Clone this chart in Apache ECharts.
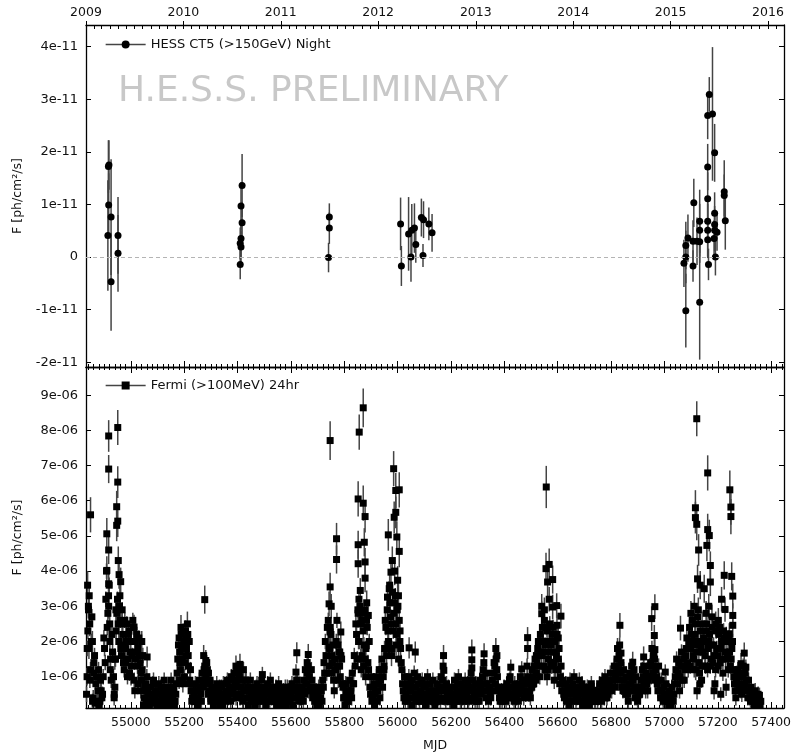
<!DOCTYPE html>
<html>
<head>
<meta charset="utf-8">
<script src="https://cdn.jsdelivr.net/npm/echarts@6/dist/echarts.min.js"></script>
</head>
<body style="margin:0; background:#fff">
<div id="chart" style="width:802px; height:754px"></div>
<script>
// ---- HESS CT5 nightly fluxes (units of 1e-11 ph/cm2/s) ----
var hessMjd = [54918, 54916, 54917, 54926, 54914, 54926, 54952, 54952,
  55417, 55413, 55417, 55413, 55410, 55413, 55410,
  55744, 55744, 55741,
  56011, 56014, 56041, 56050, 56053, 56063, 56068, 56089, 56097, 56095, 56117, 56129,
  57073, 57080, 57080, 57080, 57088, 57107, 57107, 57110, 57122, 57132, 57132, 57132, 57132,
  57162, 57162, 57162, 57162, 57162, 57165, 57188, 57188, 57188, 57188, 57186, 57191, 57197,
  57224, 57224, 57228, 57168, 57162, 57180];
var hessFlux = [1.75, 1.72, 0.99, 0.76, 0.41, -0.47, 0.41, 0.07,
  1.36, 0.97, 0.65, 0.35, 0.26, 0.19, -0.14,
  0.76, 0.55, -0.01,
  0.63, -0.17, 0.44, 0.00, 0.51, 0.55, 0.24, 0.75, 0.71, 0.03, 0.63, 0.46,
  -0.12, 0.00, 0.22, -1.02, 0.36, -0.17, 0.30, 1.03, 0.30, -0.86, 0.68, 0.51, 0.29,
  1.71, 1.11, 0.68, 0.51, 0.33, -0.14, 1.98, 0.83, 0.62, 0.51, 0.35, 0.00, 0.47,
  1.24, 1.17, 0.69, 3.09, 2.69, 2.72];
var hessErr = [0.47, 0.5, 0.6, 1.1, 1.05, 0.93, 0.73, 0.73,
  0.6, 0.45, 0.4, 0.35, 0.3, 0.3, 0.28,
  0.26, 0.3, 0.28,
  0.5, 0.38, 0.7, 0.47, 0.5, 0.47, 0.35, 0.36, 0.35, 0.22, 0.31, 0.36,
  0.45, 0.5, 0.45, 0.7, 0.45, 0.3, 0.4, 0.46, 0.45, 1.09, 0.6, 0.5, 0.4,
  0.44, 0.5, 0.4, 0.5, 0.35, 0.3, 0.55, 0.4, 0.35, 0.4, 0.35, 0.35, 0.35,
  0.6, 0.4, 0.55, 0.33, 0.45, 1.27];

// ---- Fermi-LAT daily fluxes (units of 1e-6 ph/cm2/s) ----
// bright / isolated days: [mjd, flux, error]
var fermiFlares = [
  [54849,5.6,0.5],[54838,3.6,0.4],[54841,3.0,0.35],[54846,2.5,0.35],[54843,1.8,0.3],[54856,2.0,0.3],[54836,1.0,0.25],[54861,1.1,0.3],
  [54917,7.84,0.45],[54917,6.9,0.4],[54951,8.08,0.5],[54951,6.53,0.45],[54947,5.83,0.45],[54951,5.42,0.45],[54947,5.3,0.45],
  [54910,5.06,0.45],[54917,4.6,0.4],[54910,4.02,0.4],[54917,3.64,0.35],[54956,3.9,0.4],[54962,3.7,0.4],[54917,3.0,0.35],
  [54956,3.0,0.35],[54921,2.5,0.35],[54923,1.2,0.3],[54940,1.5,0.3],[54938,0.5,0.2],[54953,4.3,0.4],[54959,3.3,0.35],
  [54944,2.9,0.35],[54967,2.5,0.35],[54972,1.9,0.3],[54981,1.4,0.3],[54991,2.2,0.3],[55012,2.41,0.35],[55001,1.0,0.25],
  [55017,2.0,0.3],[55026,1.8,0.3],
  [55061,1.56,0.3],[55041,2.0,0.3],[55038,1.1,0.25],
  [55188,2.4,0.35],[55191,1.5,0.3],[55199,1.9,0.3],[55212,2.5,0.35],[55209,2.1,0.3],[55205,2.3,0.3],[55183,1.7,0.3],
  [55195,0.8,0.25],[55215,1.6,0.3],[55181,0.9,0.25],[55219,2.0,0.3],
  [55277,3.19,0.4],[55281,1.46,0.3],[55273,1.6,0.3],[55291,1.1,0.25],
  [55394,1.3,0.3],[55409,1.35,0.3],
  [55622,1.68,0.3],[55665,1.63,0.3],[55661,1.4,0.3],
  [55747,7.71,0.55],[55771,4.92,0.45],[55771,4.33,0.4],[55747,3.55,0.4],[55743,3.07,0.35],[55751,3.0,0.35],[55747,2.27,0.3],
  [55787,2.27,0.3],[55744,1.84,0.3],[55753,1.6,0.3],[55777,1.9,0.3],[55767,1.2,0.25],[55783,1.7,0.3],
  [55856,7.95,0.5],[55871,8.64,0.55],[55852,6.05,0.5],[55871,5.93,0.5],[55878,5.55,0.45],[55852,4.75,0.4],[55875,4.82,0.4],
  [55852,4.21,0.4],[55878,4.26,0.4],[55878,3.8,0.4],[55860,3.45,0.35],[55852,2.8,0.35],[55890,2.74,0.35],[55855,3.2,0.35],
  [55866,2.6,0.3],[55884,3.1,0.35],[55862,1.5,0.3],[55873,1.3,0.25],[55880,1.0,0.25],
  [55985,6.91,0.5],[55993,6.29,0.5],[56006,6.31,0.5],[55993,5.67,0.45],[55987,5.53,0.45],[55965,5.03,0.45],[55997,4.97,0.45],
  [56006,4.56,0.45],[55975,3.97,0.4],[56000,3.74,0.4],[55962,3.26,0.35],[55980,4.3,0.4],[55989,4.0,0.4],[55970,3.6,0.35],
  [56003,3.3,0.35],[55955,1.8,0.3],[55977,1.6,0.3],[55994,1.9,0.3],[56009,2.3,0.3],[55949,1.3,0.3],
  [56043,1.82,0.3],[56066,1.7,0.3],[56172,1.6,0.3],
  [56278,1.76,0.3],[56278,1.48,0.3],[56324,1.65,0.3],[56368,1.8,0.3],[56372,1.6,0.3],
  [56487,2.11,0.3],[56487,1.8,0.3],[56540,3.0,0.35],[56540,2.79,0.35],[56530,2.0,0.3],[56520,1.6,0.3],
  [56557,6.39,0.6],[56556,4.07,0.45],[56568,4.19,0.45],[56562,3.69,0.4],[56581,3.76,0.4],[56568,3.2,0.35],[56581,2.98,0.35],
  [56596,3.02,0.35],[56612,2.72,0.35],[56597,2.46,0.3],[56552,1.2,0.3],[56560,1.0,0.25],[56574,1.4,0.3],[56587,0.9,0.25],
  [56602,2.1,0.3],[56550,2.9,0.35],
  [56833,2.46,0.35],[56824,1.8,0.3],[56837,1.67,0.3],[56829,1.1,0.25],
  [56881,1.41,0.3],[56922,1.56,0.3],[56886,1.2,0.25],
  [56952,2.65,0.35],[56964,2.99,0.35],[56962,2.17,0.3],[56964,1.77,0.3],[56958,1.6,0.3],
  [57060,2.38,0.35],[57099,2.8,0.35],[57121,8.33,0.5],[57116,5.8,0.5],[57116,5.52,0.45],[57121,5.33,0.45],[57128,4.6,0.45],
  [57124,3.78,0.4],[57134,3.6,0.4],[57105,2.0,0.3],[57112,3.0,0.35],[57117,1.2,0.3],[57127,2.9,0.35],[57141,2.5,0.35],
  [57122,0.6,0.25],[57133,0.8,0.25],
  [57149,3.5,0.4],[57162,6.79,0.5],[57162,5.18,0.45],[57168,5.01,0.45],[57159,4.73,0.45],[57172,4.16,0.4],[57172,3.69,0.4],
  [57166,3.0,0.35],[57156,2.8,0.35],[57178,2.7,0.35],
  [57245,6.31,0.55],[57249,5.82,0.5],[57249,5.55,0.5],[57224,3.88,0.4],[57252,3.85,0.4],[57256,3.29,0.35],[57214,3.2,0.35],
  [57227,2.91,0.35],[57256,2.74,0.35],[57256,2.46,0.35],[57243,2.22,0.3],[57192,2.5,0.35],[57202,2.6,0.35],[57211,0.5,0.2],
  [57186,0.6,0.25],[57231,0.7,0.25],
  [57299,1.67,0.3],[57287,1.37,0.3]
];

// the rest of the light curve: one row per ~100 days, 5-day spacing inside a row
var fermiRowStart = [54834, 54935, 55035, 55136, 55237, 55337, 55438, 55539, 55639, 55740,
  55841, 55941, 56042, 56143, 56243, 56344, 56445, 56545, 56646, 56747,
  56847, 56948, 57049, 57149, 57250, 57351];
var fermiRows = [
  [0.5,2.3,3.3,1.2,2.7,0.4,1.6,0.8,0.3,1.2,0.3,0.6,0.5,2.1,1.4,4.0,2.8,3.6,1.5,2.2],
  [1.0,0.7,2.3,3.2,2.0,2.6,1.6,2.2,1.2,1.8,2.5,1.5,1.1,2.0,1.6,2.4,0.6,1.7,1.3,2.1],
  [1.4,0.9,1.6,0.4,0.8,1.0,0.5,0.3,0.7,0.5,0.9,0.4,0.6,0.3,0.8,0.5,0.7,0.4,0.9,0.5],
  [0.3,0.7,0.5,0.9,0.4,0.6,0.3,0.8,1.5,2.1,1.2,1.8,2.3,1.0,1.6,2.0,1.3,0.9,0.6,0.4],
  [0.5,0.8,0.3,0.6,0.9,0.5,1.1,0.7,1.3,1.0,1.2,0.6,0.9,0.4,0.7,0.3,0.6,0.8,0.4,0.7],
  [0.5,0.3,0.8,0.4,0.6,0.9,0.5,0.7,1.0,0.6,1.1,0.8,1.2,0.7,1.0,0.5,0.9,1.2,0.6,0.9],
  [0.7,0.4,0.9,0.5,0.3,0.6,0.4,0.8,0.3,0.5,0.7,1.06,0.4,0.6,0.3,0.8,0.5,0.9,0.4,0.6],
  [0.3,0.7,0.5,0.8,0.4,0.6,0.3,0.5,0.7,0.4,0.6,0.3,0.5,0.8,0.4,0.7,1.13,0.9,0.5,0.7],
  [0.4,0.6,0.9,1.2,0.8,1.3,1.0,0.6,0.9,0.5,0.3,0.6,0.4,0.7,0.3,0.6,0.9,1.4,2.0,1.1],
  [2.6,1.8,2.2,1.4,0.9,1.5,2.0,1.3,1.7,1.0,1.5,0.7,0.4,0.8,0.5,0.3,0.9,0.6,1.1,0.8],
  [1.3,2.2,2.9,2.0,2.5,1.6,2.3,2.9,1.8,2.4,1.2,0.7,1.0,0.4,0.8,0.5,1.0,0.6,1.2,0.9],
  [1.5,1.0,1.8,2.4,2.9,2.0,3.1,2.5,3.4,2.8,3.3,2.2,3.0,2.6,1.8,1.2,0.6,1.0,0.5,0.8],
  [1.0,0.6,0.9,0.4,1.1,0.7,0.5,0.8,0.3,0.6,0.9,0.5,0.7,0.4,1.0,0.6,0.8,0.4,0.9,0.6],
  [0.5,0.8,0.4,0.7,1.0,0.9,1.18,0.6,0.8,0.4,0.6,0.3,0.7,0.5,0.9,0.4,0.6,1.0,0.5,0.8],
  [0.4,0.7,0.9,0.5,0.8,0.4,0.9,1.25,0.7,0.5,0.8,0.3,0.6,0.9,0.5,1.0,1.4,0.8,1.1,0.6],
  [0.7,0.4,0.9,1.1,1.3,1.5,1.0,0.6,0.3,0.6,0.4,0.7,0.5,0.8,0.4,0.9,1.27,0.7,0.5,0.8],
  [0.4,0.7,0.5,1.0,1.22,0.6,0.9,0.5,1.3,0.8,0.6,0.9,1.2,0.8,1.5,1.1,1.8,1.3,2.2,1.6],
  [2.0,2.6,1.7,2.3,1.5,2.5,1.9,2.2,1.4,2.0,1.6,1.2,1.8,1.0,0.6,0.9,0.4,0.8,0.5,0.7],
  [0.9,0.5,0.8,1.0,0.6,0.4,0.7,0.9,0.5,0.8,0.3,0.6,0.4,0.7,0.3,0.5,0.8,0.4,0.6,0.3],
  [0.6,0.4,0.8,0.5,0.9,0.6,1.0,0.7,0.5,0.9,1.1,0.6,0.9,1.3,1.0,1.5,1.2,1.9,1.4,0.9],
  [1.2,0.7,1.0,0.5,0.8,1.1,1.3,0.9,0.6,1.0,0.4,0.7,0.5,0.9,1.2,1.3,0.8,1.1,0.6,1.0],
  [1.4,1.8,1.1,1.5,1.2,0.8,1.3,0.6,0.9,0.4,0.7,1.13,0.5,0.3,0.6,0.4,0.7,0.3,0.8,1.2],
  [0.8,1.4,1.0,1.7,1.3,0.9,1.6,2.1,1.2,2.4,1.8,2.6,1.5,2.2,1.9,2.7,1.4,2.3,0.9,1.7],
  [2.0,1.3,2.5,1.8,2.2,1.5,2.4,1.9,0.8,2.3,1.6,2.2,1.4,2.0,1.1,2.1,1.5,2.0,1.2,1.7],
  [1.5,2.0,1.0,0.6,0.9,1.2,0.7,1.1,0.5,1.3,0.8,1.27,0.6,0.9,0.4,0.7,0.5,0.3,0.6,0.4],
  [0.5,0.47,0.3]
];
// same rows, days in between (2.5 days later)
var fermiRowsMid = [
  [1.8,2.9,0.9,2.0,0.3,1.4,0.25,1.0,0.6,0.2,0.9,0.4,1.0,1.8,3.2,2.4,3.3,2.0,0.9,1.7],
  [0.4,1.5,2.8,2.5,3.0,1.8,2.9,1.4,2.6,2.0,1.0,2.3,1.7,1.3,2.6,0.9,1.5,2.2,0.8,1.6],
  [0.6,1.2,0.2,0.7,0.3,0.6,0.2,0.5,0.25,0.8,0.3,0.6,0.2,0.5,0.3,0.7,0.2,0.6,0.3,0.2],
  [0.5,0.2,0.6,0.3,0.7,0.2,0.5,1.1,1.9,1.4,2.2,0.9,2.0,1.4,1.8,2.2,0.8,1.2,0.3,0.6],
  [0.3,0.6,0.2,0.4,0.7,0.3,0.8,1.2,0.9,1.4,0.5,0.8,0.3,0.6,0.2,0.5,0.4,0.3,0.6,0.2],
  [0.7,0.2,0.5,0.3,0.8,0.4,0.6,0.3,0.7,0.9,0.5,0.4,0.9,1.1,0.4,0.7,0.3,0.6,0.9,0.4],
  [0.2,0.6,0.3,0.7,0.5,0.2,0.7,0.5,0.6,0.3,0.9,0.5,0.7,0.2,0.5,0.6,0.3,0.6,0.7,0.3],
  [0.5,0.2,0.3,0.6,0.2,0.4,0.6,0.3,0.2,0.7,0.3,0.5,0.7,0.2,0.6,0.4,0.9,0.6,0.3,0.4],
  [0.7,0.3,0.5,0.8,1.1,0.6,0.7,1.2,0.4,0.7,0.5,0.2,0.5,0.2,0.4,0.3,0.7,1.1,1.6,2.4],
  [1.3,2.4,1.1,1.9,0.6,1.2,2.6,0.9,1.3,1.6,0.8,0.4,0.2,0.6,0.3,0.6,0.5,0.4,0.8,1.6],
  [2.5,1.5,2.0,3.0,1.2,2.8,1.9,1.5,2.6,1.4,2.0,0.5,0.3,0.7,0.2,0.6,0.3,0.8,0.4,1.2],
  [0.7,1.2,2.6,1.6,2.3,3.5,2.7,1.8,2.3,3.1,2.5,2.9,1.5,2.0,1.4,0.8,0.4,0.3,0.7,0.3],
  [0.4,0.8,0.2,0.7,0.5,0.3,1.0,0.4,0.6,0.8,0.3,0.4,0.2,0.8,0.5,0.3,0.6,0.5,0.3,0.2],
  [0.3,0.6,0.6,0.3,0.7,1.3,0.4,0.3,0.5,0.7,0.3,0.5,0.4,0.2,0.7,0.3,0.8,0.5,0.3,0.6],
  [0.6,0.3,0.5,0.7,0.3,0.6,1.1,0.9,0.4,0.3,0.6,0.5,0.3,0.7,0.8,1.2,0.6,0.4,0.8,0.3],
  [0.5,0.6,0.6,1.4,0.8,1.2,0.7,0.4,0.5,0.3,0.6,0.4,0.3,0.6,0.7,1.0,0.5,0.4,0.3,0.6],
  [0.6,0.3,0.8,0.7,0.9,0.4,0.6,0.8,1.0,0.5,0.4,0.7,1.0,1.3,0.9,1.4,2.0,1.0,1.7,2.4],
  [1.3,1.9,2.4,1.2,2.0,1.7,1.3,2.4,1.7,1.2,2.2,1.5,0.8,1.3,0.8,0.5,0.6,0.3,0.6,0.2],
  [0.6,0.3,0.5,0.7,0.3,0.6,0.5,0.3,0.7,0.2,0.5,0.3,0.6,0.5,0.2,0.6,0.3,0.6,0.3,0.5],
  [0.3,0.6,0.5,0.3,0.7,0.4,0.8,0.4,0.8,0.6,0.7,0.9,1.1,0.7,1.3,0.9,1.6,1.1,0.7,0.6],
  [0.9,0.5,0.7,0.3,0.6,0.8,1.0,0.6,0.4,0.7,0.3,0.5,0.7,0.6,1.0,0.8,0.6,0.8,0.9,1.3],
  [1.0,1.3,1.6,0.9,1.0,0.6,0.9,0.4,0.6,0.3,0.5,0.8,0.3,0.2,0.4,0.2,0.5,0.5,1.0,1.5],
  [1.1,0.6,1.3,0.9,1.5,1.2,1.8,1.4,2.0,1.3,2.2,1.6,1.2,2.5,1.7,2.0,1.1,1.8,1.3,2.1],
  [1.6,2.3,1.2,2.0,1.3,1.9,1.4,1.6,1.2,1.8,1.3,2.4,1.8,1.5,2.3,1.7,2.2,1.6,2.1,1.3],
  [1.8,1.2,0.8,0.4,1.1,0.8,1.0,0.6,1.0,0.7,1.1,0.9,0.4,0.6,0.3,0.5,0.3,0.2,0.4,0.2],
  [0.3,0.2]
];
var fermiRowStep = 5;
var fermiMidOffset = 2.5;
var fermiRowErr = 0.22;

// ---- axes ----
var mjdMin = 54832, mjdMax = 57448;
var mjdTicks = [55000, 55200, 55400, 55600, 55800, 56000, 56200, 56400, 56600, 56800, 57000, 57200, 57400];
var yearStarts = [54832, 55197, 55562, 55927, 56293, 56658, 57023, 57388];
var yearLabels = ['2009', '2010', '2011', '2012', '2013', '2014', '2015', '2016'];
var hessTicks = [-2, -1, 0, 1, 2, 3, 4];
var fermiTicks = [1, 2, 3, 4, 5, 6, 7, 8, 9];

var minorMjd = [];
for (var t = 54840; t <= mjdMax; t += 20) minorMjd.push(t);
var monthMjd = [];
for (var yr = 2009; yr <= 2016; yr++) {
  for (var mo = 0; mo < 12; mo++) {
    var d = Date.UTC(yr, mo, 1) / 864e5 + 40587;
    if (d >= mjdMin && d <= mjdMax) monthMjd.push(d);
  }
}

var hessData = hessMjd.map(function (m, i) { return [m, hessFlux[i], hessErr[i]]; });
var fermiData = [];
function addRows(rows, offset) {
  rows.forEach(function (row, r) {
    row.forEach(function (v, i) {
      fermiData.push([fermiRowStart[r] + offset + i * fermiRowStep, v, fermiRowErr]);
    });
  });
}
addRows(fermiRows, 0);
addRows(fermiRowsMid, fermiMidOffset);
fermiData = fermiData.concat(fermiFlares);

var font = 'DejaVu Sans';
var ink = '#111';

function errBar(params, api) {
  var cs = params.coordSys;
  var x = api.value(0), y = api.value(1), e = api.value(2);
  var a = api.coord([x, y + e]), b = api.coord([x, y - e]);
  var top = Math.max(a[1], cs.y), bot = Math.min(b[1], cs.y + cs.height);
  if (bot <= top) return null;
  return {
    type: 'line',
    shape: { x1: a[0], y1: top, x2: a[0], y2: bot },
    style: { stroke: '#444', lineWidth: 1.5 }
  };
}

function xAx(grid, pos, ticks, len, opts) {
  var ax = {
    gridIndex: grid, type: 'value', position: pos, min: mjdMin, max: mjdMax,
    axisLine: { show: true, onZero: false, lineStyle: { color: '#000', width: 1.3 } },
    axisTick: { show: true, inside: true, length: len, customValues: ticks, lineStyle: { color: '#000', width: 1 } },
    axisLabel: { show: false },
    splitLine: { show: false }
  };
  return Object.assign(ax, opts || {});
}
var noLine = { axisLine: { show: false, onZero: false } };

function yAx(grid, pos, min, max, ticks, suffix, showLabel) {
  return {
    gridIndex: grid, type: 'value', position: pos, min: min, max: max,
    axisLine: { show: true, onZero: false, lineStyle: { color: '#000', width: 1.3 } },
    axisTick: { show: true, inside: true, length: 5, customValues: ticks, lineStyle: { color: '#000' } },
    axisLabel: {
      show: showLabel, customValues: ticks, margin: 8,
      fontFamily: font, fontSize: 13, color: ink,
      formatter: function (v) { return v === 0 ? '0' : v + suffix; }
    },
    splitLine: { show: false },
    name: showLabel ? 'F [ph/cm\u00b2/s]' : '',
    nameLocation: 'middle', nameGap: 62, nameRotate: 90,
    nameTextStyle: { fontFamily: font, fontSize: 12.5, color: ink }
  };
}

var chart = echarts.init(document.getElementById('chart'));
chart.setOption({
  animation: false,
  backgroundColor: '#fff',
  grid: [
    { left: 86, top: 25, width: 698, height: 342 },
    { left: 86, top: 367, width: 698, height: 341 }
  ],
  legend: [
    {
      data: ['HESS CT5 (>150GeV) Night'], left: 100, top: 33, itemWidth: 40, itemHeight: 10,
      selectedMode: false, textStyle: { fontFamily: font, fontSize: 13, color: ink },
      lineStyle: { opacity: 1, color: '#444', width: 1.3 }
    },
    {
      data: ['Fermi (>100MeV) 24hr'], left: 100, top: 374, itemWidth: 40, itemHeight: 10,
      selectedMode: false, textStyle: { fontFamily: font, fontSize: 13, color: ink },
      lineStyle: { opacity: 1, color: '#444', width: 1.3 }
    }
  ],
  graphic: [{
    type: 'text', left: 118, top: 74, z: 0,
    style: { text: 'H.E.S.S. PRELIMINARY', font: '36px "DejaVu Sans"', fill: '#c8c8c8' }
  }],
  xAxis: [
    xAx(0, 'bottom', mjdTicks, 6),
    xAx(0, 'bottom', minorMjd, 3, noLine),
    xAx(0, 'top', yearStarts, 4, {
      axisTick: { show: true, inside: false, length: 4, customValues: yearStarts, lineStyle: { color: '#000' } },
      axisLabel: {
        show: true, customValues: yearStarts, margin: 6, fontFamily: font, fontSize: 12.5, color: ink,
        formatter: function (v) { return yearLabels[yearStarts.indexOf(v)]; }
      }
    }),
    xAx(0, 'top', monthMjd, 4, noLine),
    xAx(1, 'bottom', mjdTicks, 6, {
      axisLabel: {
        show: true, customValues: mjdTicks, margin: 8, fontFamily: font, fontSize: 12.5, color: ink,
        formatter: function (v) { return String(v); }
      },
      name: 'MJD', nameLocation: 'middle', nameGap: 31,
      nameTextStyle: { fontFamily: font, fontSize: 12.5, color: ink }
    }),
    xAx(1, 'bottom', minorMjd, 3, noLine),
    xAx(1, 'top', mjdTicks, 6),
    xAx(1, 'top', minorMjd, 3, noLine)
  ],
  yAxis: [
    yAx(0, 'left', -2.09, 4.41, hessTicks, 'e-11', true),
    yAx(0, 'right', -2.09, 4.41, hessTicks, '', false),
    yAx(1, 'left', 0.11, 9.8, fermiTicks, 'e-06', true),
    yAx(1, 'right', 0.11, 9.8, fermiTicks, '', false)
  ],
  series: [
    {
      type: 'custom', xAxisIndex: 0, yAxisIndex: 0, data: hessData, renderItem: errBar,
      encode: { x: 0, y: 1 }, silent: true, z: 2
    },
    {
      name: 'HESS CT5 (>150GeV) Night', type: 'line', xAxisIndex: 0, yAxisIndex: 0,
      data: hessData.map(function (p) { return [p[0], p[1]]; }),
      symbol: 'circle', symbolSize: 7, itemStyle: { color: '#000' },
      lineStyle: { opacity: 0 }, silent: true, z: 3,
      markLine: {
        silent: true, symbol: ['none', 'none'], label: { show: false },
        lineStyle: { type: [4, 3], color: '#b4b4b4', width: 1 },
        data: [{ yAxis: 0 }]
      }
    },
    {
      type: 'custom', xAxisIndex: 4, yAxisIndex: 2, data: fermiData, renderItem: errBar,
      encode: { x: 0, y: 1 }, silent: true, z: 2
    },
    {
      name: 'Fermi (>100MeV) 24hr', type: 'line', xAxisIndex: 4, yAxisIndex: 2,
      data: fermiData.map(function (p) { return [p[0], p[1]]; }),
      symbol: 'rect', symbolSize: 7, itemStyle: { color: '#000' },
      lineStyle: { opacity: 0 }, silent: true, z: 3
    }
  ]
});
</script>
</body>
</html>
